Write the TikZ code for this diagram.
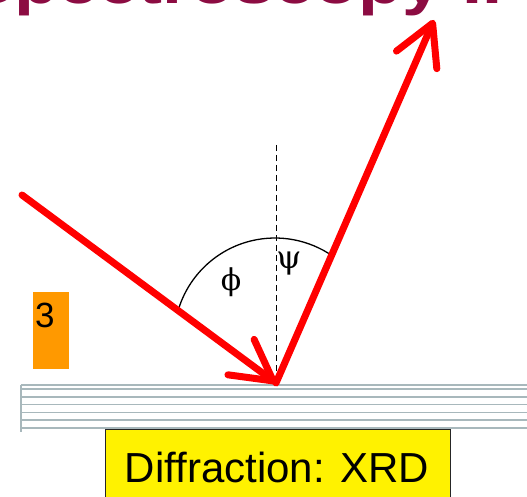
\documentclass[tikz,border=0pt]{standalone}
\usepackage{fontspec}
\setmainfont{Liberation Sans}
\newfontfamily\grkfont{DejaVu Serif}
\usetikzlibrary{arrows.meta}
\definecolor{titlemag}{RGB}{140,12,66}
\definecolor{layer}{RGB}{168,184,188}
\definecolor{boxorange}{RGB}{255,153,0}
\begin{document}
\begin{tikzpicture}[x=1pt,y=1pt,
  ray/.style={red, line width=7pt, line cap=round, line join=round,
    -{Straight Barb[length=40pt,width=44pt,round]}},
  layerline/.style={layer, line width=1.5pt},
  greek/.style={inner sep=0pt, font=\grkfont\fontsize{32}{32}\selectfont},
  ]
\useasboundingbox (0,0) rectangle (527,496);
\clip (0,0) rectangle (527,496);
\fill[white] (0,0) rectangle (527,496);
% title (cut off)
\node[anchor=base west, inner sep=0pt, text=titlemag,
  font=\fontsize{60}{60}\selectfont\bfseries, xscale=1.2] (title) at (-34,492) {Spectroscopy II};
% layers
\foreach \yy in {111,107,99.2,91.4,83.6,75.8,68}
  \draw[layerline] (21,\yy) -- (527,\yy);
\draw[layerline] (21,111) -- (21,64);
% yellow box
\draw[fill=yellow, draw=black!85, line width=1pt] (105,67) rectangle (450,-10);
\node[anchor=base, inner sep=0pt, font=\fontsize{42}{42}\selectfont] (xrd) at (277,14) {Diffraction: XRD};
% orange box
\fill[boxorange] (33,127) rectangle (69,204);
\node[anchor=base west, inner sep=0pt, font=\fontsize{35}{35}\selectfont] (three) at (35,169) {3};
% normal
\draw[dash pattern=on 6pt off 4pt, line width=1pt] (276,351) -- (276,111);
% angle arc
\draw[line width=1.3pt] (275,157) ++(163.4:101) arc[start angle=163.4, end angle=55.4, radius=101];
\node[greek, font=\grkfont\fontsize{30}{30}\selectfont] (phi) at (231,214) {ϕ};
\node[greek] (psi) at (289,232) {ψ};
% rays
\coordinate (src) at (22,301);
\coordinate (hit) at (276,113);
\coordinate (out) at (434,476);
\draw[ray] (src) -- (hit);
\draw[ray] (hit) -- (out);
\end{tikzpicture}
\end{document}
